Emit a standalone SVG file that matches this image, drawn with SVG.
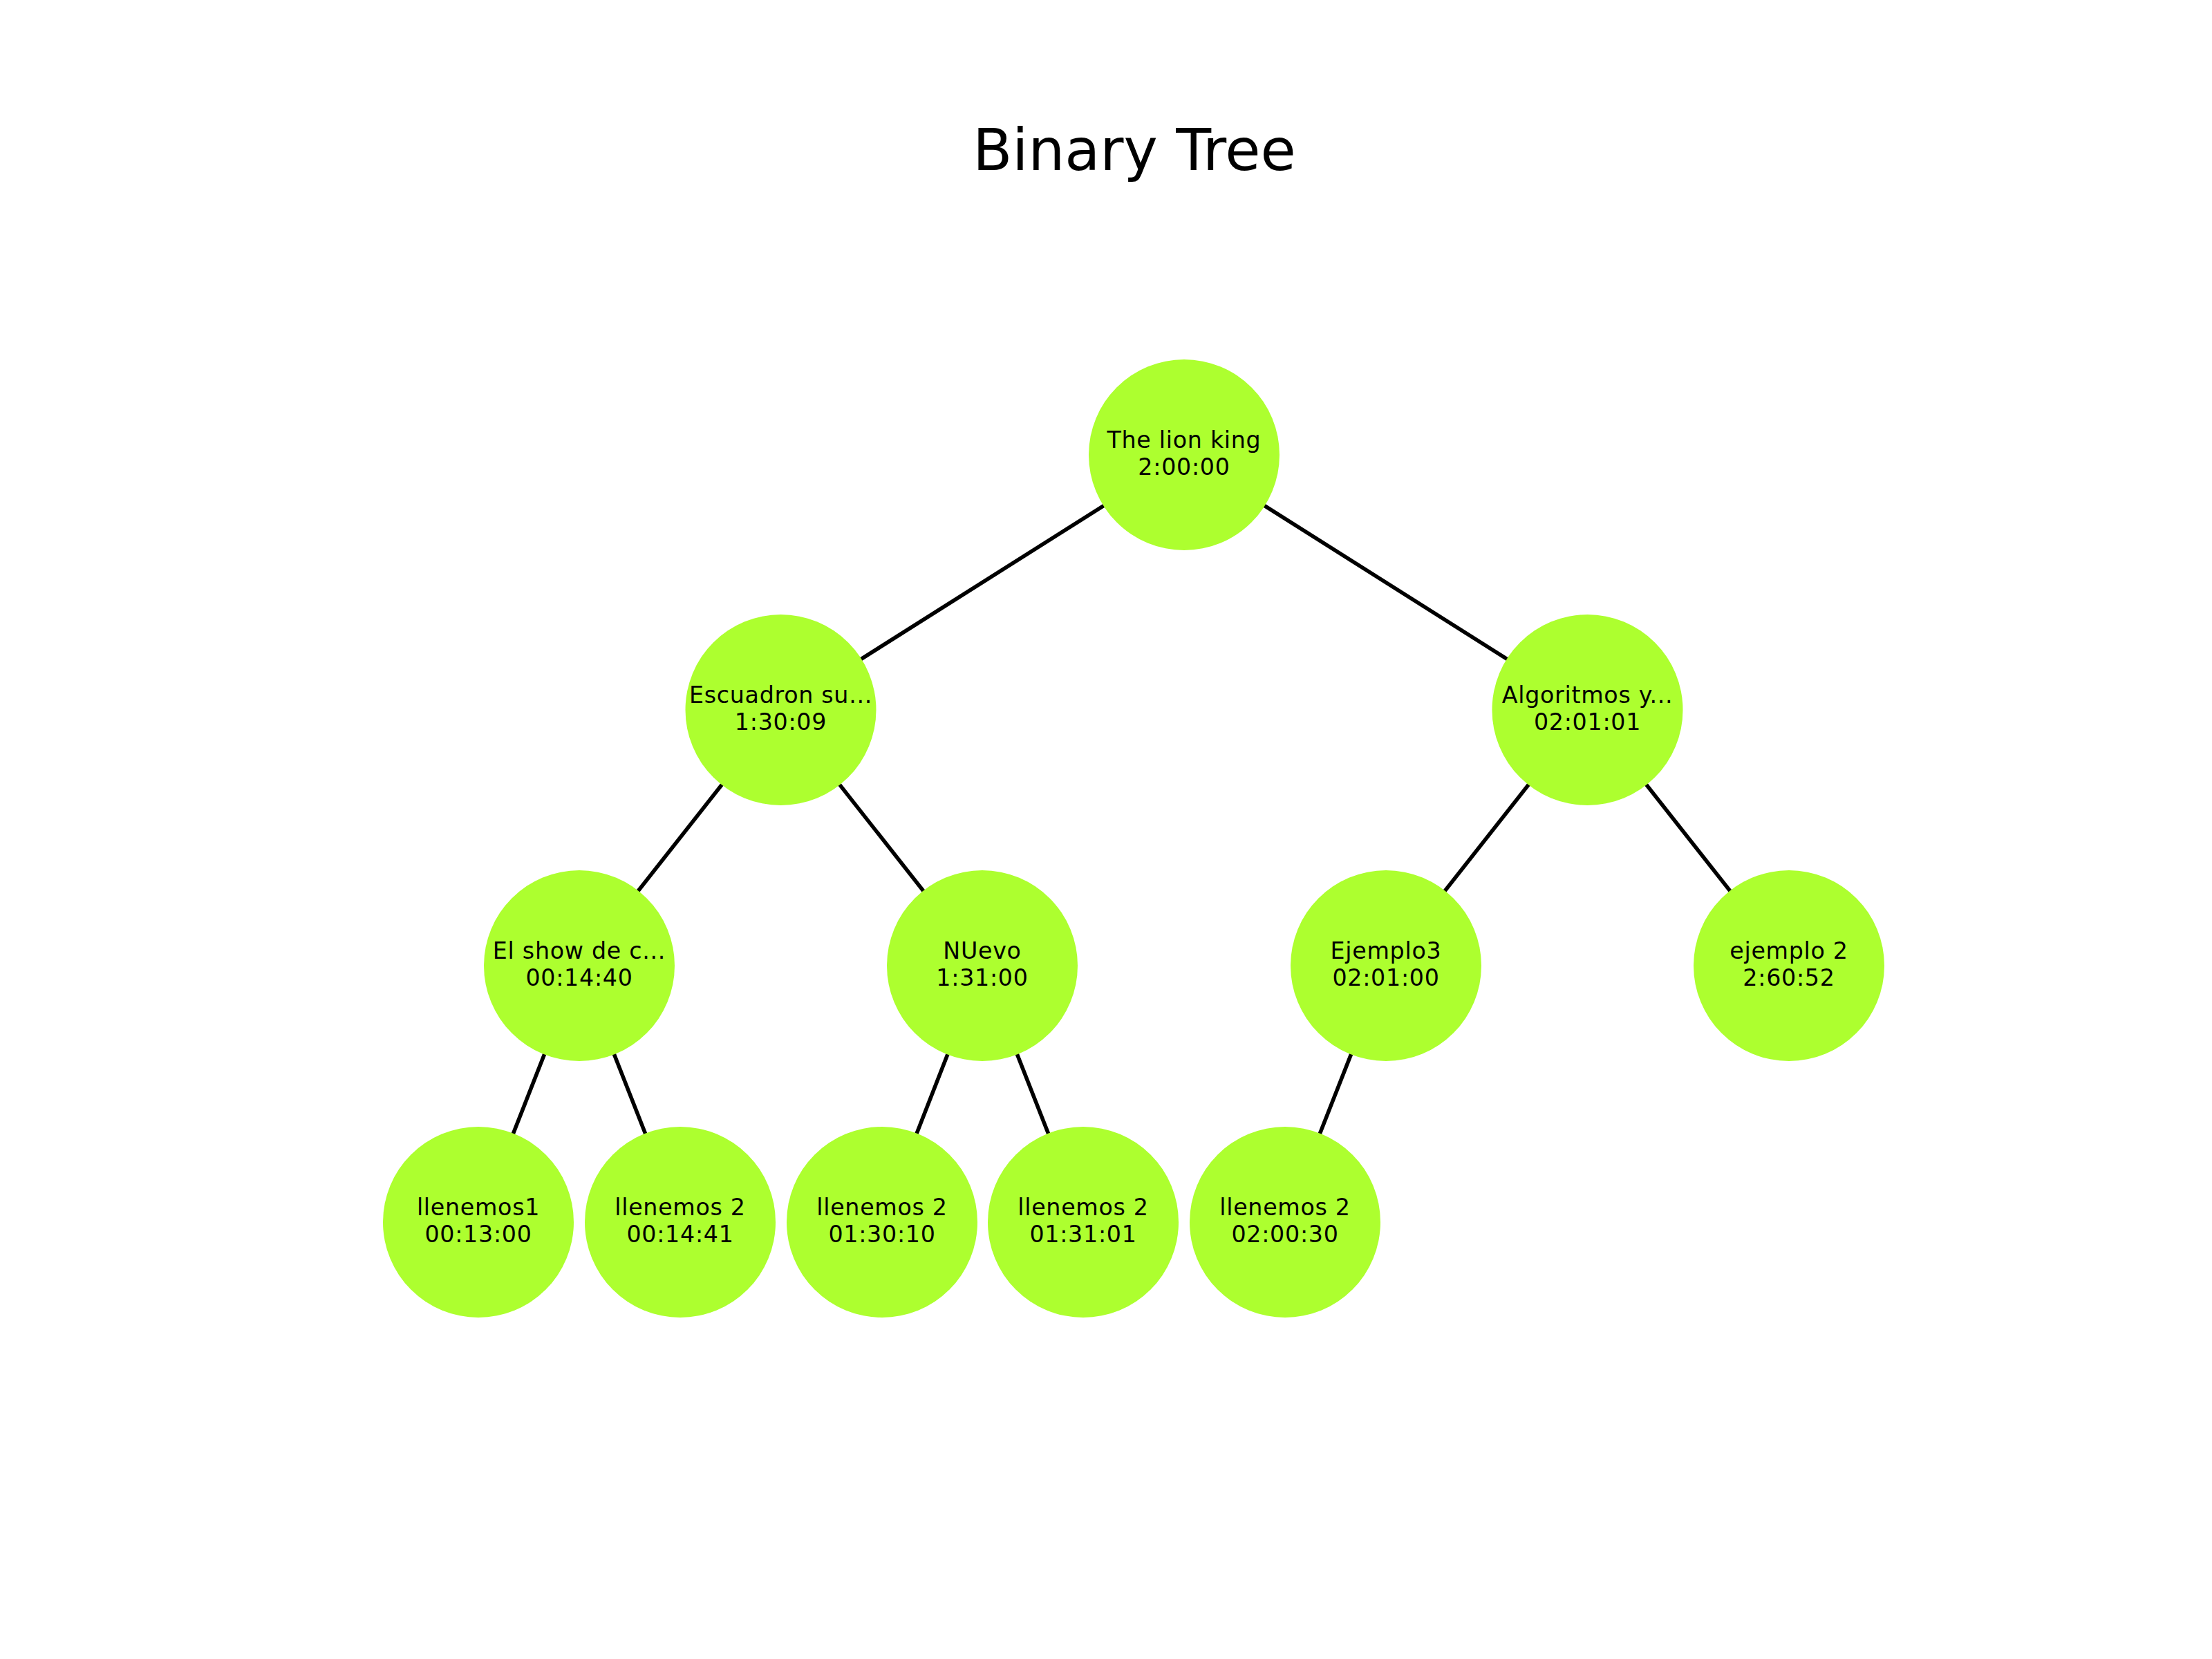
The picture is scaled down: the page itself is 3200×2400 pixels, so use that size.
<svg xmlns="http://www.w3.org/2000/svg" width="3200" height="2400" viewBox="0 0 3200 2400">
<style>
.title{font-family:"DejaVu Sans",sans-serif;font-size:83.3px;fill:#000;text-anchor:middle}
.node circle{fill:#ADFF2F}
.node text{font-family:"DejaVu Sans",sans-serif;font-size:33.3px;letter-spacing:0.7px;fill:#000;text-anchor:middle}
#edges line{stroke:#000;stroke-width:5.56;stroke-linecap:butt}
</style>
<rect width="3200" height="2400" fill="#fff"/>
<text class="title" x="1641" y="246">Binary Tree</text>
<g id="edges">
<line x1="1713" y1="658" x2="1129.5" y2="1027"/>
<line x1="1713" y1="658" x2="2296.5" y2="1027"/>
<line x1="1129.5" y1="1027" x2="838" y2="1397"/>
<line x1="1129.5" y1="1027" x2="1421" y2="1397"/>
<line x1="2296.5" y1="1027" x2="2005" y2="1397"/>
<line x1="2296.5" y1="1027" x2="2588" y2="1397"/>
<line x1="838" y1="1397" x2="692" y2="1768"/>
<line x1="838" y1="1397" x2="984" y2="1768"/>
<line x1="1421" y1="1397" x2="1276" y2="1768"/>
<line x1="1421" y1="1397" x2="1567" y2="1768"/>
<line x1="2005" y1="1397" x2="1859" y2="1768"/>
</g>
<g id="n-root" class="node"><circle cx="1713" cy="658" r="138"/><text x="1713" y="648">The lion king</text><text x="1713" y="687">2:00:00</text></g>
<g id="n-escuadron" class="node"><circle cx="1129.5" cy="1027" r="138"/><text x="1129.5" y="1017">Escuadron su...</text><text x="1129.5" y="1056">1:30:09</text></g>
<g id="n-algoritmos" class="node"><circle cx="2296.5" cy="1027" r="138"/><text x="2296.5" y="1017">Algoritmos y...</text><text x="2296.5" y="1056">02:01:01</text></g>
<g id="n-elshow" class="node"><circle cx="838" cy="1397" r="138"/><text x="838" y="1387">El show de c...</text><text x="838" y="1426">00:14:40</text></g>
<g id="n-nuevo" class="node"><circle cx="1421" cy="1397" r="138"/><text x="1421" y="1387">NUevo</text><text x="1421" y="1426">1:31:00</text></g>
<g id="n-ejemplo3" class="node"><circle cx="2005" cy="1397" r="138"/><text x="2005" y="1387">Ejemplo3</text><text x="2005" y="1426">02:01:00</text></g>
<g id="n-ejemplo2" class="node"><circle cx="2588" cy="1397" r="138"/><text x="2588" y="1387">ejemplo 2</text><text x="2588" y="1426">2:60:52</text></g>
<g id="n-llenemos1" class="node"><circle cx="692" cy="1768" r="138"/><text x="692" y="1758">llenemos1</text><text x="692" y="1797">00:13:00</text></g>
<g id="n-llenemos2a" class="node"><circle cx="984" cy="1768" r="138"/><text x="984" y="1758">llenemos 2</text><text x="984" y="1797">00:14:41</text></g>
<g id="n-llenemos2b" class="node"><circle cx="1276" cy="1768" r="138"/><text x="1276" y="1758">llenemos 2</text><text x="1276" y="1797">01:30:10</text></g>
<g id="n-llenemos2c" class="node"><circle cx="1567" cy="1768" r="138"/><text x="1567" y="1758">llenemos 2</text><text x="1567" y="1797">01:31:01</text></g>
<g id="n-llenemos2d" class="node"><circle cx="1859" cy="1768" r="138"/><text x="1859" y="1758">llenemos 2</text><text x="1859" y="1797">02:00:30</text></g>
</svg>
